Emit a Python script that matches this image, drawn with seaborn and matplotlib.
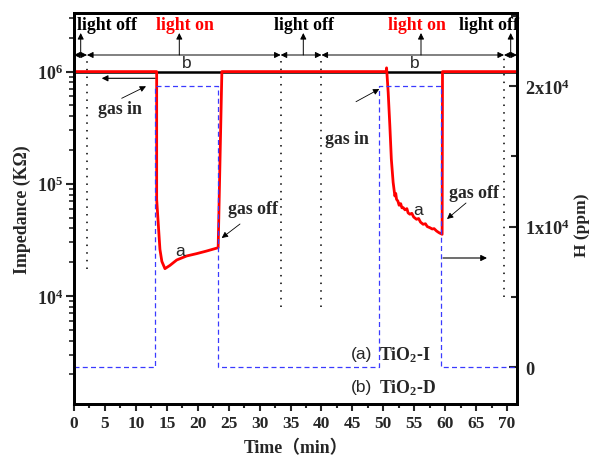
import matplotlib
matplotlib.use('Agg')
import matplotlib.pyplot as plt
import seaborn as sns
from matplotlib.ticker import FixedLocator, FixedFormatter, MultipleLocator, LogLocator, NullFormatter

sns.set_style('white')
plt.rcParams['font.family'] = ['Liberation Serif', 'Noto Sans CJK SC', 'DejaVu Sans']
plt.rcParams['font.weight'] = 'bold'
plt.rcParams['mathtext.fontset'] = 'custom'
plt.rcParams['mathtext.rm'] = 'Liberation Serif:bold'
plt.rcParams['mathtext.bf'] = 'Liberation Serif:bold'
plt.rcParams['mathtext.it'] = 'Liberation Serif:italic:bold'

# ---------------- data ----------------
# curve (a) TiO2-I impedance (KOhm) vs time (min)
time_a = [0.0, 13.36, 13.36, 13.89, 14.2, 14.7, 15.5, 16.6, 18.2, 19.8, 21.4, 23.3, 23.9,
          50.45, 50.52, 50.78, 51.05, 51.29, 51.58, 51.86, 52.0, 52.13, 52.35, 52.55, 52.8,
          53.0, 53.2, 53.5, 53.8, 54.0, 54.28, 54.6, 54.9, 55.36, 55.7, 56.0, 56.43, 56.8,
          57.1, 57.51, 57.9, 58.2, 58.6, 59.0, 59.5, 59.56, 71.6]
imp_a = [1.0e6, 1.0e6, 72700, 26000, 20300, 17500, 18700, 20900, 22700, 23800, 25100, 26900, 1.0e6,
         1.0e6, 1.08e6, 652000, 328000, 165600, 103000, 77800, 82000, 72700, 70000, 64300, 66500,
         61000, 61300, 58500, 60000, 55000, 53500, 54500, 50500, 48200, 49000, 45500, 43500, 44000,
         41500, 40600, 39500, 39800, 37900, 36600, 35400, 1.0e6, 1.0e6]
# curve (b) TiO2-D impedance
time_b = [0.0, 71.6]
imp_b = [1.0e6, 1.0e6]
# H2 concentration (ppm)
time_h = [0.0, 13.1, 13.1, 23.2, 23.2, 49.3, 49.3, 59.3, 59.3, 71.6]
h_ppm = [0, 0, 20000, 20000, 0, 0, 20000, 20000, 0, 0]
# light switching times (min) and lower ends of the dotted markers
light_times = [2.1, 33.4, 40.0, 69.5]
marker_low = [17300, 7900, 7900, 9700]
bracket_level = 1.40e6
light_labels = ['light off', 'light on', 'light off', 'light on', 'light off']

x_ticks = list(range(0, 75, 5))
left_ticks = [1e4, 1e5, 1e6]
left_labels = [r'$10^{4}$', r'$10^{5}$', r'$10^{6}$']
right_ticks = [0, 10000, 20000]
right_labels = ['0', r'1x10$^{4}$', r'2x10$^{4}$']

# ---------------- figure ----------------
W, H = 593, 464
fig = plt.figure(figsize=(W / 100, H / 100), dpi=100)
ax = fig.add_axes([74 / W, 59 / H, 443 / W, 391 / H])
ax2 = ax.twinx()

def fp(x, y):
    return (x / W, 1 - y / H)

sns.lineplot(x=time_b, y=imp_b, ax=ax, color='black', lw=1.8, estimator=None, sort=False, zorder=3)
sns.lineplot(x=time_a, y=imp_a, ax=ax, color='#ff0000', lw=2.0, estimator=None, sort=False, zorder=4)
sns.lineplot(x=time_h, y=h_ppm, ax=ax2, color='#3a3aff', lw=0.9, estimator=None, sort=False,
             linestyle=(0, (4, 2.6)), zorder=2)

ax.set_yscale('log')
ax.set_xlim(0, 71.6)
ax.set_ylim(1087, 3.33e6)
ax2.set_ylim(-2630, 25200)

# dotted light markers
for t, lo in zip(light_times, marker_low):
    ax.plot([t, t], [lo, bracket_level], color='black', lw=1.1, linestyle=(0, (1, 4)), zorder=2)

# bracket arrows (x in data, y in figure fraction)
edges = [0.0] + light_times + [71.6]
for a, b in zip(edges[:-1], edges[1:]):
    ax2.annotate('', xy=(b, 1 - 56 / H), xytext=(a, 1 - 56 / H),
                 xycoords=('data', 'figure fraction'), textcoords=('data', 'figure fraction'),
                 arrowprops=dict(arrowstyle='<|-|>', lw=0.7, color='black', mutation_scale=9,
                                 shrinkA=0, shrinkB=0))

# helper for pixel-positioned annotations
def arrow(p0, p1, lw=0.6, ms=9):
    fig.add_artist(matplotlib.patches.FancyArrowPatch(
        fp(*p0), fp(*p1), transform=fig.transFigure, arrowstyle='-|>', lw=lw,
        color='black', mutation_scale=ms, shrinkA=0, shrinkB=0))

# light labels and up arrows
lab_x = [107, 185, 304, 417, 489]
arr_x = [80.7, 179.3, 303.3, 421, 510.7]
for lx, axx, txt in zip(lab_x, arr_x, light_labels):
    col = 'red' if txt.endswith('on') else 'black'
    fig.text(*fp(lx, 25), txt, ha='center', va='center', fontsize=12.8, fontweight='bold', color=col)
    arrow((axx, 56), (axx, 34), lw=0.7, ms=9)

for bx in [186.7, 415]:
    fig.text(*fp(bx, 64), 'b', ha='center', va='center', fontsize=12.5,
             family='Liberation Sans', fontweight='normal')

# gas annotations
fig.text(*fp(120, 110), 'gas in', ha='center', va='center', fontsize=12.8, fontweight='bold')
arrow((121.7, 99.3), (146, 87.3))
arrow((155, 79.3), (101.7, 79.3), lw=0.8)
fig.text(*fp(347, 140), 'gas in', ha='center', va='center', fontsize=12.8, fontweight='bold')
arrow((356, 102.7), (379.3, 90))
fig.text(*fp(253, 209), 'gas off', ha='center', va='center', fontsize=12.8, fontweight='bold')
arrow((240, 225), (221.7, 239))
fig.text(*fp(474, 194), 'gas off', ha='center', va='center', fontsize=12.8, fontweight='bold')
arrow((466, 204), (447, 220))
arrow((443, 259), (487, 259), lw=0.8)

fig.text(*fp(180, 252), 'a', ha='center', va='center', fontsize=12.5,
         family='Liberation Sans', fontweight='normal')
fig.text(*fp(418, 211), 'a', ha='center', va='center', fontsize=12.5,
         family='Liberation Sans', fontweight='normal')

# legend-like labels
for yy, tag, name in [(355, '(a)', r'TiO$_{2}$-I'), (388, '(b)', r'TiO$_{2}$-D')]:
    fig.text(*fp(372, yy), tag, ha='right', va='center', fontsize=12.5,
             family='Liberation Sans', fontweight='normal')
    fig.text(*fp(379, yy), name, ha='left', va='center', fontsize=12.8, fontweight='bold')

# ---------------- axes styling ----------------
ax.xaxis.set_major_locator(FixedLocator(x_ticks))
ax.xaxis.set_minor_locator(MultipleLocator(2.5))
ax.yaxis.set_major_locator(FixedLocator(left_ticks))
ax.yaxis.set_major_formatter(FixedFormatter(left_labels))
ax.yaxis.set_minor_locator(LogLocator(base=10, subs=range(2, 10)))
ax.yaxis.set_minor_formatter(NullFormatter())
ax2.yaxis.set_major_locator(FixedLocator(right_ticks))
ax2.yaxis.set_major_formatter(FixedFormatter(right_labels))
ax2.yaxis.set_minor_locator(MultipleLocator(5000))

for a in (ax, ax2):
    for s in a.spines.values():
        s.set_linewidth(2.0)
        s.set_color('black')

ax.tick_params(axis='x', which='major', direction='out', length=5, width=1.5, labelsize=12.5, pad=3, bottom=True)
ax.tick_params(axis='x', which='minor', direction='out', length=3, width=1.5, bottom=True)
ax.tick_params(axis='y', which='major', direction='out', length=6, width=1.5, labelsize=13, pad=2, left=True)
ax.tick_params(axis='y', which='minor', direction='out', length=3.5, width=1.2, left=True)
ax2.tick_params(axis='y', which='major', direction='in', length=6, width=1.5, labelsize=13.2, pad=6, right=True)
ax2.tick_params(axis='y', which='minor', direction='in', length=4, width=1.5, right=True)

for lab in ax.get_xticklabels() + ax.get_yticklabels() + ax2.get_yticklabels():
    lab.set_fontweight('bold')

ax.set_xlabel('Time（min）', fontsize=12.8, fontweight='bold', labelpad=6)
ax.set_ylabel('Impedance (KΩ)', fontsize=12.8, fontweight='bold', labelpad=4)
ax2.set_ylabel('H (ppm)', fontsize=12.5, fontweight='bold', labelpad=6)
ax2.yaxis.set_label_coords(1.128, 0.46)

fig.savefig('out.png', dpi=100)
